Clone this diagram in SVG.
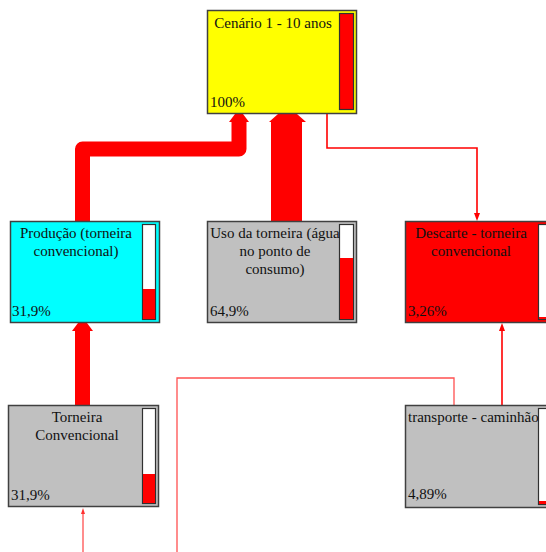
<svg xmlns="http://www.w3.org/2000/svg" width="546" height="552" viewBox="0 0 546 552">
  <style>
    .box { stroke: #404040; stroke-width: 1.5; }
    .bar { fill: #ffffff; stroke: #303030; stroke-width: 1.2; }
    .lvl { fill: #ff0000; }
    .lbl { font-family: "Liberation Serif", "Times New Roman", serif; font-size: 15px; fill: #111111; }
    .mid { text-anchor: middle; }
    .thick { fill: none; stroke: #ff0000; stroke-linejoin: round; }
    .thin { fill: none; stroke: #ff0000; stroke-width: 1.6; }
    .faint { fill: none; stroke: #ff5050; stroke-width: 1.3; }
    .head { fill: #ff0000; }
  </style>

  <rect width="546" height="552" fill="#ffffff"/>

  <!-- connectors -->
  <g id="connectors">
    <!-- Produção -> Cenário -->
    <path class="thick" stroke-width="15" d="M82.5,222 V149 H239 V121"/>
    <polygon class="head" points="229,122 235,114 243,114 249,122"/>
    <!-- Uso da torneira -> Cenário -->
    <path class="thick" stroke-width="31" d="M286.5,222 V121"/>
    <polygon class="head" points="269,122 278,114 297,114 306,122"/>
    <!-- Cenário -> Descarte -->
    <path class="thin" d="M327,113 V148 H477 V216"/>
    <polygon class="head" points="474,213 480,213 477,221"/>
    <!-- Torneira Convencional -> Produção -->
    <path class="thick" stroke-width="15" d="M82.5,405 V329"/>
    <polygon class="head" points="72,331 78,323 87,323 93,331"/>
    <!-- transporte -> Descarte -->
    <path class="thin" d="M502,405 V326"/>
    <polygon class="head" points="499,331 505,331 502,323"/>
    <!-- lower inputs -->
    <path class="faint" d="M83,552 V512"/>
    <polygon points="81,514 85,514 83,508" fill="#ff3030"/>
    <path class="faint" d="M177,552 V378 H454 V405"/>
  </g>

  <!-- Cenário 1 - 10 anos -->
  <g id="node-cenario">
    <rect class="box" x="207.5" y="10.5" width="149" height="103" fill="#ffff00"/>
    <rect class="bar lvl" x="339.5" y="13.5" width="14" height="96" style="fill:#ff0000"/>
    <text class="lbl mid" x="273" y="28">Cenário 1 - 10 anos</text>
    <text class="lbl" x="210" y="107">100%</text>
  </g>

  <!-- Produção (torneira convencional) -->
  <g id="node-producao">
    <rect class="box" x="10.5" y="221.5" width="149" height="101" fill="#00ffff"/>
    <rect class="bar" x="142.5" y="224.5" width="13" height="95"/>
    <rect class="lvl" x="143" y="289" width="12" height="30"/>
    <text class="lbl mid" x="76" y="238">Produção (torneira</text>
    <text class="lbl mid" x="76" y="256">convencional)</text>
    <text class="lbl" x="12" y="316">31,9%</text>
  </g>

  <!-- Uso da torneira -->
  <g id="node-uso">
    <rect class="box" x="207.5" y="221.5" width="149" height="101" fill="#c0c0c0"/>
    <rect class="bar" x="339.5" y="224.5" width="14" height="95"/>
    <rect class="lvl" x="340" y="258" width="13" height="61"/>
    <text class="lbl mid" x="275" y="238">Uso da torneira (água</text>
    <text class="lbl mid" x="275" y="256">no ponto de</text>
    <text class="lbl mid" x="275" y="274">consumo)</text>
    <text class="lbl" x="210" y="316">64,9%</text>
  </g>

  <!-- Descarte - torneira convencional -->
  <g id="node-descarte">
    <rect class="box" x="405.5" y="221.5" width="149" height="101" fill="#ff0000"/>
    <rect class="bar" x="538.5" y="224.5" width="14" height="95"/>
    <rect class="lvl" x="539" y="317" width="13" height="2"/>
    <text class="lbl mid" x="471" y="238">Descarte - torneira</text>
    <text class="lbl mid" x="471" y="256">convencional</text>
    <text class="lbl" x="408" y="316">3,26%</text>
  </g>

  <!-- Torneira Convencional -->
  <g id="node-torneira">
    <rect class="box" x="8.5" y="405.5" width="150" height="101" fill="#c0c0c0"/>
    <rect class="bar" x="142.5" y="408.5" width="13" height="95"/>
    <rect class="lvl" x="143" y="474" width="12" height="29"/>
    <text class="lbl mid" x="77" y="422">Torneira</text>
    <text class="lbl mid" x="77" y="440">Convencional</text>
    <text class="lbl" x="11" y="500">31,9%</text>
  </g>

  <!-- transporte - caminhão -->
  <g id="node-transporte">
    <rect class="box" x="405.5" y="405.5" width="149" height="102" fill="#c0c0c0"/>
    <rect class="bar" x="538.5" y="408.5" width="14" height="96"/>
    <rect class="lvl" x="539" y="501" width="13" height="3"/>
    <text class="lbl" x="408" y="422">transporte - caminhão</text>
    <text class="lbl" x="408" y="499">4,89%</text>
  </g>
</svg>
